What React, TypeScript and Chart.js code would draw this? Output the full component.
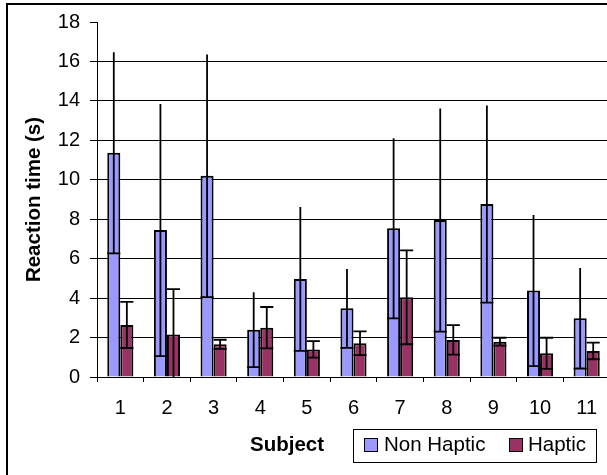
import React, { useEffect, useRef } from "react";
import { Chart, registerables } from "chart.js";

Chart.register(...registerables);

const subjects = ["1", "2", "3", "4", "5", "6", "7", "8", "9", "10", "11"];
const nonHaptic = [11.37, 7.45, 10.2, 2.4, 4.97, 3.48, 7.54, 7.96, 8.77, 4.38, 2.98];
const nonHapticSD = [5.1, 6.39, 6.15, 1.9, 3.65, 2.0, 4.57, 5.66, 5.0, 3.83, 2.55];
const haptic = [2.64, 2.16, 1.66, 2.5, 1.4, 1.71, 4.04, 1.88, 1.79, 1.2, 1.32];
const hapticSD = [1.17, 2.3, 0.23, 1.05, 0.42, 0.6, 2.38, 0.75, 0.2, 0.79, 0.42];
const seriesNames = ["Non Haptic", "Haptic"];
const seriesColors = ["#9999FF", "#993366"];
const yTitle = "Reaction time (s)";
const xTitle = "Subject";

const FONT = "'Liberation Sans', Arial, sans-serif";

const errorBarPlugin = {
  id: "errorBars",
  afterDatasetsDraw(chart: any) {
    const { ctx } = chart;
    const y = chart.scales.y;
    const sds = [nonHapticSD, hapticSD];
    ctx.save();
    ctx.strokeStyle = "#000";
    ctx.lineWidth = 1.8;
    chart.data.datasets.forEach((ds: any, di: number) => {
      const meta = chart.getDatasetMeta(di);
      meta.data.forEach((el: any, i: number) => {
        const { x, width } = el.getProps(["x", "width"], true);
        const v = ds.data[i];
        const sd = sds[di][i];
        const hi = v + sd;
        const lo = Math.max(v - sd, 0);
        const yHi = y.getPixelForValue(hi);
        const yLo = y.getPixelForValue(lo);
        ctx.beginPath();
        ctx.moveTo(x, yHi);
        ctx.lineTo(x, yLo);
        if (v - sd > 0) {
          ctx.moveTo(x - width / 2, yLo);
          ctx.lineTo(x + width / 2, yLo);
        }
        if (di === 1) {
          ctx.moveTo(x - width / 2, yHi);
          ctx.lineTo(x + width / 2, yHi);
        }
        ctx.stroke();
      });
    });
    ctx.restore();
  },
};

const legendPlugin = {
  id: "boxLegend",
  afterDraw(chart: any) {
    const { ctx } = chart;
    ctx.save();
    // x axis title
    ctx.font = `bold 20.5px ${FONT}`;
    ctx.fillStyle = "#000";
    ctx.textAlign = "center";
    ctx.textBaseline = "middle";
    ctx.fillText(xTitle, 287, 445);
    // legend frame
    ctx.strokeStyle = "#000";
    ctx.lineWidth = 1;
    ctx.strokeRect(353.5, 429.5, 243, 33);
    ctx.font = `20.5px ${FONT}`;
    ctx.textAlign = "left";
    const items = [
      { bx: 364, tx: 384 },
      { bx: 509, tx: 528 },
    ];
    chart.data.datasets.forEach((ds: any, i: number) => {
      const it = items[i];
      ctx.fillStyle = ds.backgroundColor;
      ctx.fillRect(it.bx, 438, 13, 13);
      ctx.strokeRect(it.bx + 0.5, 438.5, 13, 13);
      ctx.fillStyle = "#000";
      ctx.fillText(ds.label, it.tx, 445.5);
    });
    ctx.restore();
  },
};

export default function App() {
  const ref = useRef<HTMLCanvasElement | null>(null);
  useEffect(() => {
    if (!ref.current) return;
    const chart = new Chart(ref.current, {
      type: "bar",
      data: {
        labels: subjects,
        datasets: [
          {
            label: seriesNames[0],
            data: nonHaptic,
            backgroundColor: seriesColors[0],
            borderColor: "#000",
            borderWidth: 2,
            categoryPercentage: 0.56,
            barPercentage: 1,
          },
          {
            label: seriesNames[1],
            data: haptic,
            backgroundColor: seriesColors[1],
            borderColor: "#000",
            borderWidth: 2,
            categoryPercentage: 0.56,
            barPercentage: 1,
          },
        ],
      },
      options: {
        responsive: false,
        animation: false,
        layout: { padding: { top: 22, right: 10, left: 0, bottom: 0 } },
        plugins: {
          legend: { display: false },
          tooltip: { enabled: false },
        },
        scales: {
          x: {
            offset: true,
            grid: {
              offset: true,
              drawOnChartArea: false,
              tickLength: 5,
              color: "#000",
              tickColor: "#000",
            },
            border: { color: "#000", width: 1 },
            ticks: {
              color: "#000",
              font: { family: FONT, size: 20 },
              padding: 14,
              maxRotation: 0,
            },
            afterFit(scale: any) {
              scale.height = 98;
            },
          },
          y: {
            min: 0,
            max: 18,
            ticks: {
              stepSize: 2,
              color: "#000",
              font: { family: FONT, size: 20 },
              padding: 10,
            },
            grid: {
              color: (c: any) => (c.tick && c.tick.value === 18 ? "rgba(0,0,0,0)" : "#000"),
              tickColor: "#000",
              tickLength: 7,
              lineWidth: 1,
            },
            border: { color: "#000", width: 1 },
            title: {
              display: true,
              text: yTitle,
              color: "#000",
              font: { family: FONT, size: 20.5, weight: "bold" },
              padding: { top: 22, bottom: 0 },
            },
            afterFit(scale: any) {
              scale.width = 97;
            },
          },
        },
      },
      plugins: [errorBarPlugin, legendPlugin],
    });
    return () => chart.destroy();
  }, []);

  return (
    <div
      style={{
        position: "fixed",
        left: 0,
        top: 0,
        width: 607,
        height: 475,
        overflow: "hidden",
        background: "#fff",
      }}
    >
      <canvas
        ref={ref}
        width={620}
        height={475}
        style={{ position: "absolute", left: 0, top: 0, width: 620, height: 475 }}
      />
      <div
        style={{
          position: "absolute",
          left: 6,
          top: 3,
          width: 700,
          height: 600,
          border: "2px solid #000",
          pointerEvents: "none",
        }}
      />
    </div>
  );
}
